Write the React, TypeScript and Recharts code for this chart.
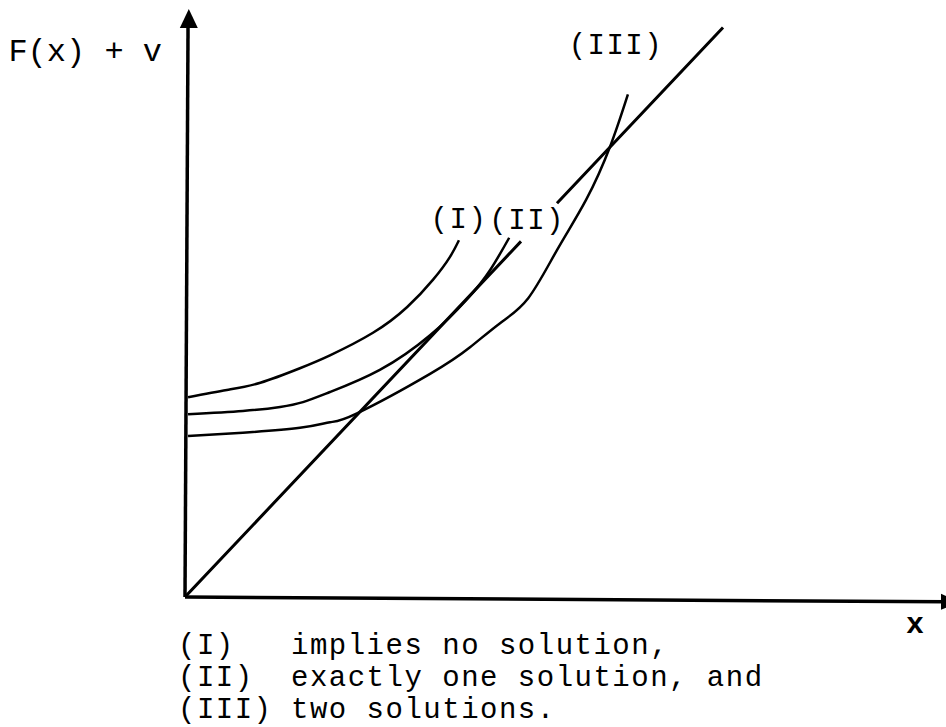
import React from 'react';
import { LineChart, Line, XAxis, YAxis, ReferenceLine, ReferenceDot } from 'recharts';

// x runs 0..10, y runs 0..7.3; the straight line is F = x
const xDomain: [number, number] = [0, 10];
const yDomain: [number, number] = [0, 7.3];

const diagonalX = [0, 4.415, 4.6, 4.888, 7.07];
const diagonalY = [0, 4.415, null, 4.888, 7.07];

const curve1X = [0.04, 0.55, 0.99, 1.51, 1.905, 2.47, 2.92, 3.26, 3.48, 3.6];
const curve1Y = [2.48, 2.57, 2.66, 2.84, 3.0, 3.28, 3.6, 3.94, 4.22, 4.43];

const curve2X = [0.04, 0.76, 1.25, 1.55, 1.905, 2.56, 3.22, 3.71, 4.01, 4.26];
const curve2Y = [2.27, 2.31, 2.36, 2.42, 2.545, 2.82, 3.25, 3.7, 4.06, 4.46];

const curve3X = [0.04, 0.76, 1.51, 1.905, 2.26, 3.22, 3.745, 4.14, 4.51, 4.89, 5.27, 5.585, 5.82];
const curve3Y = [2.0, 2.04, 2.1, 2.17, 2.28, 2.77, 3.1, 3.4, 3.71, 4.31, 4.93, 5.59, 6.24];

const curveLabels = ['(I)', '(II)', '(III)'];
const noteKeys = ['(I)', '(II)', '(III)'];
const noteTexts = ['implies no solution,', 'exactly one solution, and', 'two solutions.'];
const yAxisTitle = 'F(x) + v';
const xAxisTitle = 'x';

const toPoints = (xs: number[], ys: (number | null)[]) => xs.map((x, i) => ({ x, y: ys[i] }));

const diagonal = toPoints(diagonalX, diagonalY);
const curves = [toPoints(curve1X, curve1Y), toPoints(curve2X, curve2Y), toPoints(curve3X, curve3Y)];

const FONT = '"Liberation Mono", "Courier New", monospace';
const INK = '#000';

// offsets of the curve labels from each curve's last point
const labelOffsets = [
  { dx: 0, dy: -12 },
  { dx: 18, dy: -9 },
  { dx: -12, dy: -40 },
];

export default function App() {
  return (
    <div style={{ position: 'absolute', left: 0, top: 0, width: 946, height: 727, background: '#fff' }}>
      <LineChart width={946} height={727} margin={{ top: 9, right: 0, bottom: 130, left: 185 }}>
        <XAxis dataKey="x" type="number" domain={xDomain} hide allowDataOverflow />
        <YAxis type="number" domain={yDomain} hide allowDataOverflow />

        {/* axes */}
        <ReferenceLine
          segment={[{ x: 0, y: 0 }, { x: 10, y: -0.06 }]}
          stroke={INK}
          strokeWidth={3.5}
          ifOverflow="visible"
        />
        <ReferenceLine
          segment={[{ x: 0, y: 0 }, { x: 0.04, y: 7.1 }]}
          stroke={INK}
          strokeWidth={3.5}
          ifOverflow="visible"
        />
        <ReferenceDot
          x={0.05}
          y={7.3}
          ifOverflow="visible"
          shape={(p: any) => (
            <polygon points={`${p.cx},${p.cy} ${p.cx - 9},${p.cy + 19} ${p.cx + 9},${p.cy + 19}`} fill={INK} />
          )}
        />
        <ReferenceDot
          x={10}
          y={-0.06}
          ifOverflow="visible"
          shape={(p: any) => (
            <polygon points={`${p.cx + 14},${p.cy} ${p.cx - 5},${p.cy - 8} ${p.cx - 5},${p.cy + 8}`} fill={INK} />
          )}
        />

        <Line
          data={diagonal}
          dataKey="y"
          type="linear"
          stroke={INK}
          strokeWidth={3}
          dot={false}
          activeDot={false}
          connectNulls={false}
          isAnimationActive={false}
        />
        {curves.map((c, i) => (
          <Line
            key={i}
            data={c}
            dataKey="y"
            type="natural"
            stroke={INK}
            strokeWidth={2.5}
            dot={false}
            activeDot={false}
            isAnimationActive={false}
          />
        ))}

        {/* curve labels, hung off each curve's end */}
        {curves.map((c, i) => {
          const last = c[c.length - 1];
          return (
            <ReferenceDot
              key={`lab-${i}`}
              x={last.x}
              y={last.y as number}
              ifOverflow="visible"
              shape={(p: any) => (
                <text
                  x={p.cx + labelOffsets[i].dx}
                  y={p.cy + labelOffsets[i].dy}
                  textAnchor="middle"
                  fontFamily={FONT}
                  fontSize={29}
                  letterSpacing={1.5}
                  fill={INK}
                >
                  {curveLabels[i]}
                </text>
              )}
            />
          );
        })}

        {/* axis titles */}
        <ReferenceDot
          x={0}
          y={7.3}
          ifOverflow="visible"
          shape={(p: any) => (
            <text x={p.cx - 23} y={p.cy + 52} textAnchor="end" fontFamily={FONT} fontSize={32} fill={INK} style={{ whiteSpace: 'pre' }}>
              {yAxisTitle}
            </text>
          )}
        />
        <ReferenceDot
          x={10}
          y={0}
          ifOverflow="visible"
          shape={(p: any) => (
            <text x={p.cx - 31} y={p.cy + 36} textAnchor="middle" fontFamily={FONT} fontSize={30} fontWeight="bold" fill={INK}>
              {xAxisTitle}
            </text>
          )}
        />

        {/* notes under the chart */}
        <ReferenceDot
          x={0}
          y={0}
          ifOverflow="visible"
          shape={(p: any) => (
            <g fontFamily={FONT} fontSize={29} letterSpacing={1.5} fill={INK}>
              {noteKeys.map((k, i) => (
                <g key={k}>
                  <text x={p.cx - 7} y={p.cy + 57 + i * 32}>{k}</text>
                  <text x={p.cx + 106} y={p.cy + 57 + i * 32}>{noteTexts[i]}</text>
                </g>
              ))}
            </g>
          )}
        />
      </LineChart>
    </div>
  );
}
